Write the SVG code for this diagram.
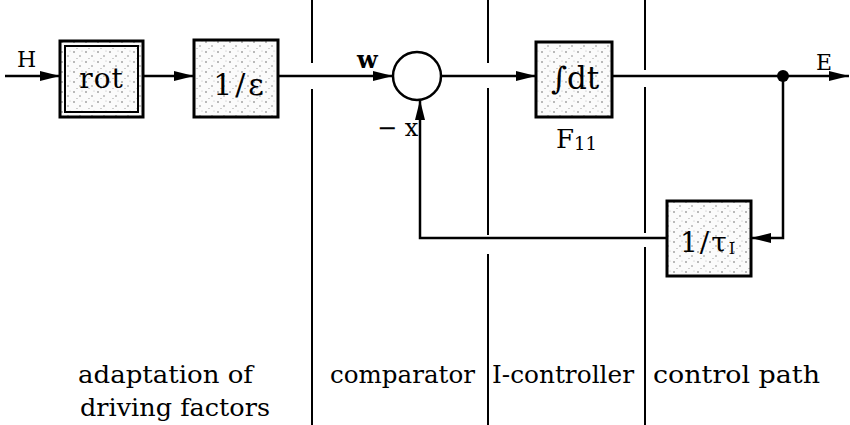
<svg xmlns="http://www.w3.org/2000/svg" width="850" height="425" viewBox="0 0 850 425">
<style>
.ln{stroke:#000;stroke-width:2.5;fill:none}
.dv{stroke:#000;stroke-width:2;fill:none}
.box{fill:url(#dots);stroke:#000;stroke-width:3}
.t{font-family:"DejaVu Serif","Liberation Serif",serif;fill:#000}
.lab{font-size:25px}
</style>
<defs>
<pattern id="dots" width="12" height="10" patternUnits="userSpaceOnUse">
<rect width="12" height="10" fill="#fbfbfb"/>
<circle cx="2" cy="2" r="0.8" fill="#666"/>
<circle cx="8" cy="6" r="0.8" fill="#888"/>
<circle cx="5" cy="8.5" r="0.6" fill="#999"/>
<circle cx="10" cy="1" r="0.5" fill="#aaa"/>
</pattern>
<marker id="ah" markerWidth="20" markerHeight="10" refX="20" refY="5" orient="auto" markerUnits="userSpaceOnUse">
<path d="M0,0 L20,5 L0,10 z" fill="#000"/>
</marker>
</defs>

<g id="dividers">
<path class="dv" d="M312,0 V63 M312,89 V425"/>
<path class="dv" d="M488,0 V63 M488,88 V235 M488,254 V425"/>
<path class="dv" d="M645,0 V70 M645,87 V233 M645,247 V425"/>
</g>

<g id="connectors">
<path class="ln" d="M5,76 H60" marker-end="url(#ah)"/>
<path class="ln" d="M143,76 H194" marker-end="url(#ah)"/>
<path class="ln" d="M278,76 H393" marker-end="url(#ah)"/>
<path class="ln" d="M441,76 H536" marker-end="url(#ah)"/>
<path class="ln" d="M612,76 H849" marker-end="url(#ah)"/>
<path class="ln" d="M783,76 V238 H751" marker-end="url(#ah)"/>
<path class="ln" d="M667,238 H420 V100" marker-end="url(#ah)"/>
<circle cx="783" cy="76" r="6" fill="#000"/>
</g>

<g id="rot">
<rect class="box" x="60" y="41" width="83" height="76"/>
<rect x="65" y="46" width="73" height="66" fill="none" stroke="#000" stroke-width="2"/>
<text class="t" x="101.5" y="88" font-size="28" text-anchor="middle" letter-spacing="1">rot</text>
</g>

<g id="inv_eps">
<rect class="box" x="194" y="40" width="84" height="77"/>
<text class="t" x="240" y="95" font-size="30" text-anchor="middle" letter-spacing="3">1/ε</text>
</g>

<g id="comparator">
<circle cx="417" cy="76" r="24" fill="#fff" stroke="#000" stroke-width="2.5"/>
</g>

<g id="integrator">
<rect class="box" x="536" y="42" width="76" height="75"/>
<text class="t" x="575" y="89" font-size="31" text-anchor="middle">∫dt</text>
<text class="t" x="556" y="148" font-size="26">F<tspan font-size="18" dy="2">11</tspan></text>
</g>

<g id="feedback">
<rect class="box" x="667" y="201" width="84" height="75"/>
<text class="t" x="680" y="252" font-size="28" letter-spacing="2">1/τ<tspan font-size="16" dy="2">I</tspan></text>
</g>

<g id="labels">
<text class="t" x="17" y="67" font-size="22">H</text>
<text class="t" x="816" y="70" font-size="22">E</text>
<text class="t" x="357" y="68" font-size="24" font-weight="bold">w</text>
<text class="t" x="377" y="136" font-size="24">− x</text>
<text class="t lab" x="78" y="383" textLength="175" lengthAdjust="spacingAndGlyphs">adaptation of</text>
<text class="t lab" x="80" y="416" textLength="190" lengthAdjust="spacingAndGlyphs">driving factors</text>
<text class="t lab" x="330" y="383" textLength="145" lengthAdjust="spacingAndGlyphs">comparator</text>
<text class="t lab" x="492" y="383" textLength="142" lengthAdjust="spacingAndGlyphs">I-controller</text>
<text class="t lab" x="653" y="383" textLength="167" lengthAdjust="spacingAndGlyphs">control path</text>
</g>
</svg>
